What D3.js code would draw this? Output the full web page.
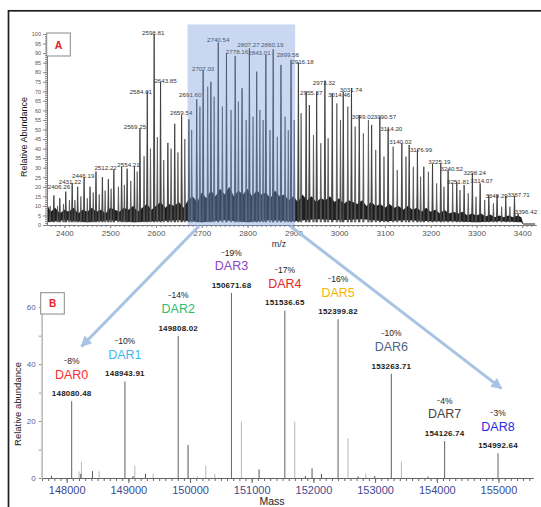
<!DOCTYPE html>
<html>
<head>
<meta charset="utf-8">
<script src="https://cdn.jsdelivr.net/npm/d3@7"></script>
<style>
body { margin: 0; background: #fff; }
svg text { font-family: "Liberation Sans", Arial, sans-serif; }
</style>
</head>
<body>
<svg id="chart" width="541" height="507"></svg>
<script>
// ---- panel A : raw m/z spectrum ----
var mzTicks = [2400, 2500, 2600, 2700, 2800, 2900, 3000, 3100, 3200, 3300, 3400];
var abTicks = [0, 5, 10, 15, 20, 25, 30, 35, 40, 45, 50, 55, 60, 65, 70, 75, 80, 85, 90, 95, 100];

// tall peaks  [m/z, relative abundance]
var mainPeaks = [
  [2377, 15.5], [2390, 14], [2403, 17.5], [2417, 22], [2429, 20], [2443, 25], [2456, 20],
  [2469, 28], [2483, 25], [2496, 24], [2508, 29], [2525, 30.5], [2537, 29.5], [2553, 30.5],
  [2565, 50.5], [2581, 70], [2596, 100], [2610, 75], [2626, 43], [2641, 53], [2656, 57.5],
  [2672, 55.3], [2689, 65.8], [2703, 81.2], [2720, 75], [2736, 95.5], [2754, 89.9], [2773, 88.5],
  [2788, 71.6], [2804, 92.5], [2820, 80.3], [2840, 89], [2856, 92], [2873, 83.8], [2895, 86.4],
  [2911, 85], [2928, 69.8], [2935, 62.8], [2951, 69.8], [2969, 75.6], [2985, 68.9], [3009, 69.8],
  [3027, 71.6], [3044, 57.6], [3071, 52.4], [3089, 56.7], [3107, 50.6], [3137, 42.8], [3153, 41.9],
  [3171, 39.6], [3185, 30.5], [3204, 31.9], [3222, 32.3], [3238, 28.8], [3257, 22.7], [3273, 20.9],
  [3291, 27], [3308, 21.8], [3327, 15.7], [3345, 15.7], [3364, 15.2], [3383, 15.2], [3391, 6]
];

// shorter peaks in between
var sidePeaks = [
  [2369, 10], [2385, 10], [2398, 11], [2411, 13], [2423, 13], [2436, 15], [2450, 14], [2463, 17],
  [2476, 16], [2489, 18], [2502, 19], [2518, 20], [2531, 21], [2545, 23], [2559, 28], [2574, 36],
  [2588, 40], [2603, 46], [2617, 34], [2633, 40], [2648, 38], [2663, 45],
  [2678, 49.7], [2696, 62], [2713, 72.4], [2727, 67.2], [2745, 62], [2764, 60.2], [2780, 64.6],
  [2797, 55], [2812, 56.7], [2827, 60.2], [2834, 55], [2849, 49.7], [2865, 46.2], [2882, 56.7],
  [2889, 49.7], [2902, 55],
  [2917, 58.5], [2944, 47.1], [2960, 42.8], [2976, 45.4], [2995, 63.7], [3003, 55], [3019, 62],
  [3035, 51.5], [3053, 48], [3064, 55], [3080, 39.3], [3098, 35.8], [3118, 41], [3127, 28.8],
  [3146, 35.8], [3162, 30.5], [3178, 25.3], [3195, 27.9], [3213, 21.8], [3229, 20], [3248, 21.8],
  [3264, 18.3], [3282, 16.6], [3299, 14.8], [3318, 13.1], [3337, 11.3], [3355, 9.6], [3373, 9.6]
];

// noise floor envelope
var noiseTop = [
  [2362, 11], [2370, 7], [2380, 9], [2390, 6], [2400, 8], [2410, 7], [2420, 9], [2430, 6],
  [2440, 8], [2450, 7], [2460, 9], [2470, 7], [2480, 8], [2490, 6], [2500, 9], [2510, 8],
  [2520, 7], [2530, 9], [2540, 8], [2550, 10], [2560, 7], [2570, 9], [2580, 11], [2590, 8],
  [2600, 10], [2610, 12], [2620, 9], [2630, 11], [2640, 10], [2650, 12], [2660, 9], [2670, 13],
  [2680, 15], [2690, 12], [2700, 17], [2710, 14], [2720, 18], [2730, 15], [2740, 19], [2750, 16],
  [2760, 20], [2770, 15], [2780, 18], [2790, 16], [2800, 19], [2810, 15], [2820, 18], [2830, 16],
  [2840, 17], [2850, 14], [2860, 18], [2870, 15], [2880, 16], [2890, 13], [2900, 15], [2910, 12],
  [2920, 16], [2930, 13], [2940, 15], [2950, 12], [2960, 14], [2970, 13], [2980, 15], [2990, 12],
  [3000, 14], [3010, 11], [3020, 13], [3030, 12], [3040, 11], [3050, 13], [3060, 10], [3070, 12],
  [3080, 10], [3090, 11], [3100, 9], [3110, 11], [3120, 9], [3130, 10], [3140, 8], [3150, 10],
  [3160, 8], [3170, 9], [3180, 7], [3190, 9], [3200, 7], [3210, 8], [3220, 6], [3230, 8],
  [3240, 6], [3250, 7], [3260, 6], [3270, 7], [3280, 5], [3290, 6], [3300, 5], [3310, 6],
  [3320, 4.5], [3330, 5.5], [3340, 4], [3350, 5], [3360, 4], [3370, 5], [3380, 4], [3390, 5],
  [3398, 4], [3402, 0.8], [3428, 0.8]
];
var noiseBottom = [
  [2362, 1.5], [2400, 2.5], [2450, 1.5], [2500, 2.5], [2550, 1.5], [2600, 2], [2650, 2.5],
  [2700, 1.5], [2750, 2.5], [2800, 1.5], [2850, 2.5], [2900, 2], [2950, 3], [3000, 2.5],
  [3050, 3], [3100, 2], [3150, 2.5], [3200, 2], [3250, 2], [3300, 1.5], [3350, 2], [3398, 1.5],
  [3402, 0.3], [3428, 0.3]
];

// peak labels  [text, m/z, abundance] where the text sits
var peakLabels = [
  ["2406.26", 2388, 20.1], ["2431.22", 2412, 22.4], ["2446.19", 2441, 25.8], ["2512.22", 2490, 30],
  ["2554.21", 2540, 31.3], ["2569.25", 2554, 51.2], ["2584.01", 2567, 69.8], ["2598.81", 2594, 100.7],
  ["2643.85", 2621, 75.4], ["2659.54", 2655, 58.8], ["2691.60", 2675, 68], ["2707.03", 2703, 81.7],
  ["2740.54", 2736, 96.7], ["2778.16", 2777, 90.6], ["2807.27", 2802, 94.4], ["2843.01", 2826, 89.9],
  ["2860.19", 2854, 94.2], ["2899.56", 2888, 88.9], ["2916.18", 2920, 85.5], ["2955.37", 2939, 69.3],
  ["2973.32", 2967, 74.5], ["3014.46", 3000, 68.4], ["3031.74", 3026, 70.7], ["3049.02", 3052, 56.7],
  ["3090.57", 3100, 56.7], ["3114.20", 3114, 50.6], ["3140.02", 3134, 43.5], ["3176.99", 3179, 39.6],
  ["3225.19", 3219, 33], ["3240.52", 3246, 29.2], ["3298.24", 3296, 27.2], ["3251.81", 3260, 22.5],
  ["3314.07", 3311, 22.9], ["3349.29", 3344, 15.3], ["3387.71", 3392, 15.7], ["3396.42", 3408, 6.8]
];

var zoomWindow = [2669, 2904];   // m/z range that was deconvoluted

// ---- panel B : deconvoluted masses ----
var massTicks = [148000, 149000, 150000, 151000, 152000, 153000, 154000, 155000];
var relTicks = [0, 20, 40, 60];

var darNames = ["DAR0", "DAR1", "DAR2", "DAR3", "DAR4", "DAR5", "DAR6", "DAR7", "DAR8"];
var darMass = [148080.48, 148943.91, 149808.02, 150671.68, 151536.65, 152399.82, 153263.71, 154126.74, 154992.64];
var darHeight = [27, 33.9, 49.9, 65, 58.8, 55.8, 36.6, 13, 8.7];
var darShare = ["8%", "10%", "14%", "19%", "17%", "16%", "10%", "4%", "3%"];
var darColors = ["#ff2a2a", "#3fb8ea", "#2dbb70", "#8a44c4", "#e8262a", "#f7b500", "#4f6385", "#454545", "#2a2ae6"];

// small peaks, two overlaid traces
var darkMass = [147754, 148229, 148418, 149076, 149277, 149968, 151119, 151871, 151978, 152130, 152723, 152994, 153858];
var darkHeight = [0.8, 1.5, 2.4, 0.7, 1.5, 11.6, 3, 0.7, 3.4, 1.4, 0.6, 0.7, 0.5];
var faintMass = [148201, 148240, 148525, 149104, 149401, 150120, 150255, 150401, 150833, 151697, 152561, 152848, 153427];
var faintHeight = [2.3, 5.7, 2.4, 4.3, 1.5, 0.7, 4.3, 1.5, 19.8, 19.8, 14, 1.5, 5.7];

var arrows = [
  {from: [2694, -0.5], to: [148240, 46.2]},
  {from: [2893, -0.5], to: [155048, 31.5]}
];

var svg = d3.select("#chart");

var xA = d3.scaleLinear().domain([2362, 3430]).range([47, 536]);
var yA = d3.scaleLinear().domain([0, 100]).range([225, 34]);
var xB = d3.scaleLinear().domain([147595, 155560]).range([41.7, 533]);
var yB = d3.scaleLinear().domain([0, 65]).range([478, 293]);

// outer frame (only top and left edges show)
svg.append("rect")
  .attr("x", 8.5).attr("y", 10.8).attr("width", 560).attr("height", 530)
  .attr("fill", "none").attr("stroke", "#1e1e1e").attr("stroke-width", 1.7);

//////// panel A
var gA = svg.append("g");
var lineA = d3.line().x(d => xA(d[0])).y(d => yA(d[1]));

gA.append("path")
  .attr("d", lineA(noiseTop.concat(noiseBottom.slice().reverse())) + "Z")
  .attr("fill", "#1e1e1e");

function spike(d){
  return lineA([[d[0] - 1.6, 1.5], [d[0], d[1]], [d[0] + 1.6, 1.5]]);
}
gA.selectAll("path.side").data(sidePeaks).join("path")
  .attr("class", "side")
  .attr("d", spike)
  .attr("fill", "#666").attr("stroke", "#4a4a4a").attr("stroke-width", 0.7);
gA.selectAll("path.main").data(mainPeaks).join("path")
  .attr("class", "main")
  .attr("d", spike)
  .attr("fill", "#555").attr("stroke", "#333").attr("stroke-width", 0.8);

gA.selectAll("text.plab").data(peakLabels).join("text")
  .attr("class", "plab")
  .attr("x", d => xA(d[1])).attr("y", d => yA(d[2]))
  .attr("dy", "0.35em")
  .attr("text-anchor", "middle")
  .attr("font-size", 6.2).attr("fill", "#333")
  .text(d => d[0]);

// axes A
var minorY = gA.append("g").attr("transform", "translate(47,0)")
  .call(d3.axisLeft(yA).tickValues(d3.range(0, 101, 1)).tickSize(2).tickSizeOuter(0).tickFormat(""));
var axYA = gA.append("g").attr("transform", "translate(47,0)")
  .call(d3.axisLeft(yA).tickValues(abTicks).tickSize(4).tickSizeOuter(0).tickPadding(2));
var minorX = gA.append("g").attr("transform", "translate(0,225)")
  .call(d3.axisBottom(xA).tickValues(d3.range(2370, 3430, 10)).tickSize(2).tickSizeOuter(0).tickFormat(""));
var axXA = gA.append("g").attr("transform", "translate(0,225)")
  .call(d3.axisBottom(xA).tickValues(mzTicks).tickSize(3).tickSizeOuter(0).tickPadding(2).tickFormat(d3.format("d")));

[minorY, axYA, minorX, axXA].forEach(function(a){
  a.select(".domain").attr("stroke", "#777");
  a.selectAll(".tick line").attr("stroke", "#888");
});
axYA.selectAll("text").attr("font-size", 5.5).attr("fill", "#555").attr("font-family", "Liberation Sans");
axXA.selectAll("text").attr("font-size", 8).attr("fill", "#555").attr("font-family", "Liberation Sans");

// shaded window drawn over the data
gA.append("rect")
  .attr("x", xA(zoomWindow[0])).attr("y", yA(105))
  .attr("width", xA(zoomWindow[1]) - xA(zoomWindow[0]))
  .attr("height", yA(-0.5) - yA(105))
  .attr("fill", "#6c95d5").attr("fill-opacity", 0.37);

gA.append("text")
  .attr("transform", "translate(27,137) rotate(-90)")
  .attr("text-anchor", "middle")
  .attr("font-size", 9).attr("fill", "#111")
  .text("Relative Abundance");
gA.append("text")
  .attr("x", 279).attr("y", 247)
  .attr("text-anchor", "middle")
  .attr("font-size", 9).attr("fill", "#333")
  .text("m/z");

gA.append("rect").attr("x", 46.7).attr("y", 33).attr("width", 23.6).attr("height", 23)
  .attr("fill", "#fff").attr("stroke", "#888").attr("stroke-width", 1);
gA.append("text").attr("x", 58.5).attr("y", 48.5).attr("text-anchor", "middle")
  .attr("font-size", 10.5).attr("font-weight", "bold").attr("fill", "#e8221e")
  .text("A");

//////// panel B
var gB = svg.append("g");

var minorXB = gB.append("g").attr("transform", "translate(0,478)")
  .call(d3.axisBottom(xB).tickValues(d3.range(147600, 155600, 100)).tickSize(3).tickSizeOuter(0).tickFormat(""));
var axXB = gB.append("g").attr("transform", "translate(0,478)")
  .call(d3.axisBottom(xB).tickValues(massTicks).tickSize(5).tickSizeOuter(0).tickPadding(3).tickFormat(d3.format("d")));
var minorYB = gB.append("g").attr("transform", "translate(41.7,0)")
  .call(d3.axisLeft(yB).tickValues([10, 30, 50]).tickSize(3).tickSizeOuter(0).tickFormat(""));
var axYB = gB.append("g").attr("transform", "translate(41.7,0)")
  .call(d3.axisLeft(yB).tickValues(relTicks).tickSize(3).tickSizeOuter(0).tickPadding(3));

[minorXB, axXB].forEach(function(a){
  a.select(".domain").attr("stroke", "#666");
  a.selectAll(".tick line").attr("stroke", "#666");
});
[minorYB, axYB].forEach(function(a){
  a.select(".domain").attr("stroke", "#bdbdbd").attr("stroke-width", 1.3);
  a.selectAll(".tick line").attr("stroke", "#999");
});
axXB.selectAll("text").attr("font-size", 11).attr("fill", "#3d4a92").attr("font-family", "Lato");
axYB.selectAll("text").attr("font-size", 8).attr("fill", "#5c5c96").attr("font-family", "Lato");

gB.selectAll("line.faint").data(faintMass).join("line")
  .attr("class", "faint")
  .attr("x1", d => xB(d)).attr("x2", d => xB(d))
  .attr("y1", yB(0)).attr("y2", (d, i) => yB(faintHeight[i]))
  .attr("stroke", "#bdbdbd").attr("stroke-width", 1.1);
gB.selectAll("line.dark").data(darkMass).join("line")
  .attr("class", "dark")
  .attr("x1", d => xB(d)).attr("x2", d => xB(d))
  .attr("y1", yB(0)).attr("y2", (d, i) => yB(darkHeight[i]))
  .attr("stroke", "#555").attr("stroke-width", 1);
gB.selectAll("line.dar").data(darMass).join("line")
  .attr("class", "dar")
  .attr("x1", d => xB(d)).attr("x2", d => xB(d))
  .attr("y1", yB(0)).attr("y2", (d, i) => yB(darHeight[i]))
  .attr("stroke", "#707070").attr("stroke-width", 1.1);

var lab = gB.selectAll("g.darlab").data(darMass).join("g")
  .attr("class", "darlab")
  .attr("transform", (d, i) => "translate(" + xB(d) + "," + yB(darHeight[i]) + ")");
lab.append("text")
  .attr("y", -8).attr("dy", "0.35em").attr("text-anchor", "middle")
  .attr("font-family", "DejaVu Sans").attr("font-weight", "bold")
  .attr("font-size", 8).attr("letter-spacing", 0.2).attr("fill", "#1a1a1a")
  .text(d => d3.format(".2f")(d));
lab.append("text")
  .attr("y", -27).attr("dy", "0.35em").attr("text-anchor", "middle")
  .attr("font-family", "Lato").attr("font-size", 12.5)
  .attr("fill", (d, i) => darColors[i])
  .text((d, i) => darNames[i]);
var pct = lab.append("text")
  .attr("y", -38).attr("dy", "0.35em").attr("text-anchor", "middle")
  .attr("font-family", "Lato").attr("font-size", 8.5).attr("fill", "#222");
pct.append("tspan").attr("font-size", 6).attr("dy", "-0.2em").text("~");
pct.append("tspan").attr("dy", "0.2em").text((d, i) => darShare[i]);

gB.append("text")
  .attr("transform", "translate(21,404) rotate(-90)")
  .attr("text-anchor", "middle")
  .attr("font-family", "Lato").attr("font-size", 9.5).attr("fill", "#222")
  .text("Relative abundance");
gB.append("text")
  .attr("x", 272).attr("y", 505)
  .attr("text-anchor", "middle")
  .attr("font-family", "Lato").attr("font-size", 10.5).attr("fill", "#222")
  .text("Mass");

gB.append("rect").attr("x", 40.7).attr("y", 292.7).attr("width", 23.6).attr("height", 21.3)
  .attr("fill", "#fff").attr("stroke", "#888").attr("stroke-width", 1);
gB.append("text").attr("x", 52.5).attr("y", 307).attr("text-anchor", "middle")
  .attr("font-family", "Lato").attr("font-size", 10).attr("font-weight", "bold").attr("fill", "#e8221e")
  .text("B");

//////// arrows linking the shaded window to panel B
svg.append("defs").append("marker")
  .attr("id", "head").attr("viewBox", "0 0 10 10")
  .attr("refX", 9).attr("refY", 5)
  .attr("markerWidth", 12).attr("markerHeight", 11)
  .attr("markerUnits", "userSpaceOnUse").attr("orient", "auto")
  .append("path").attr("d", "M0,0 L10,5 L0,10 z").attr("fill", "#a8c3e3");

svg.selectAll("line.arrow").data(arrows).join("line")
  .attr("class", "arrow")
  .attr("x1", d => xA(d.from[0])).attr("y1", d => yA(d.from[1]))
  .attr("x2", d => xB(d.to[0])).attr("y2", d => yB(d.to[1]))
  .attr("stroke", "#a8c3e3").attr("stroke-width", 3)
  .attr("marker-end", "url(#head)");
</script>
</body>
</html>
